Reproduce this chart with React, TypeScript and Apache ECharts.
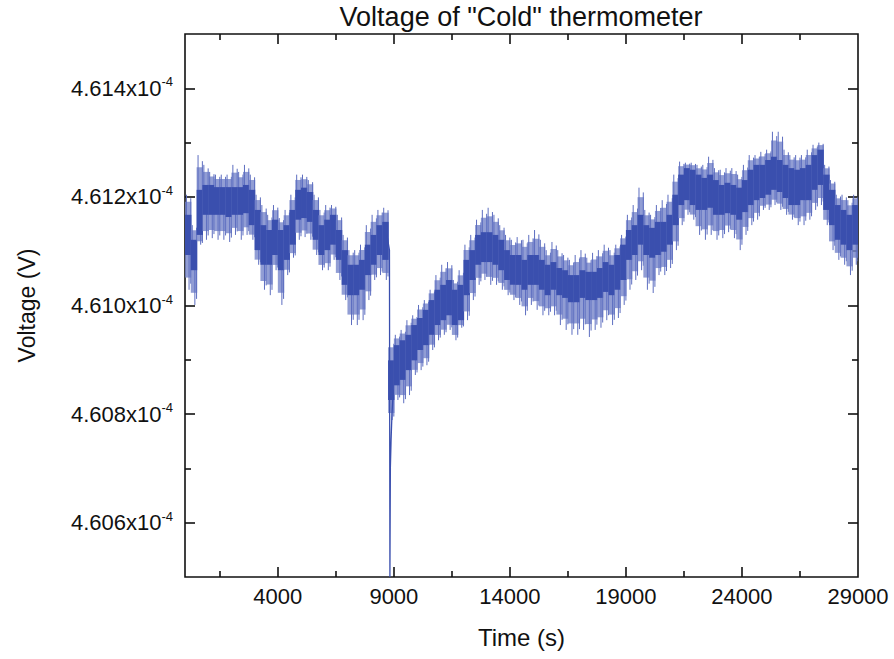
import React, { useEffect, useRef } from "react";
import * as echarts from "echarts";

// Time bins (s): each bin spans BIN seconds, starting at 0
const BIN = 250;
// Voltage in units of 1e-4 V, read per bin from the picture
const coreTop = [
  4.61167, 4.61121, 4.61213, 4.61222, 4.61222, 4.61218, 4.61218, 4.61218, 4.61218, 4.61218,
  4.61222, 4.61213, 4.61176, 4.61148, 4.61139, 4.61158, 4.61139, 4.61148, 4.61176, 4.61213,
  4.61217, 4.61209, 4.61176, 4.61148, 4.61158, 4.61167, 4.61139, 4.61102, 4.61075, 4.61075,
  4.61084, 4.61112, 4.6113, 4.61148, 4.61154, 4.60899, 4.60927, 4.60936, 4.60946, 4.60964,
  4.60977, 4.60992, 4.6101, 4.61029, 4.61038, 4.61047, 4.61029, 4.61038, 4.61084, 4.61102,
  4.6113, 4.61135, 4.61135, 4.6113, 4.61121, 4.61102, 4.61093, 4.61093, 4.61084, 4.61093,
  4.61093, 4.61084, 4.61075, 4.6108, 4.61069, 4.61065, 4.61056, 4.61056, 4.61065, 4.61062,
  4.61062, 4.61069, 4.6108, 4.61075, 4.61093, 4.61112, 4.61139, 4.61148, 4.61167, 4.61148,
  4.61143, 4.61154, 4.61154, 4.61167, 4.61204, 4.61241, 4.61253, 4.6125, 4.61241, 4.61235,
  4.61241, 4.61231, 4.61222, 4.61226, 4.61222, 4.61217, 4.61231, 4.6125, 4.61259, 4.61259,
  4.61268, 4.61274, 4.61268, 4.61259, 4.61253, 4.6125, 4.61253, 4.61259, 4.61277, 4.61287,
  4.61241, 4.61213, 4.61185, 4.61176, 4.61167, 4.61185,
];
const coreBottom = [
  4.61093, 4.61065, 4.6113, 4.61167, 4.61167, 4.61167, 4.61167, 4.61163, 4.61167, 4.61167,
  4.6117, 4.61148, 4.61102, 4.61075, 4.61075, 4.61093, 4.61065, 4.61084, 4.61112, 4.61158,
  4.61161, 4.61154, 4.61121, 4.61093, 4.61102, 4.61112, 4.61084, 4.61038, 4.61019, 4.61019,
  4.61029, 4.61056, 4.61075, 4.61093, 4.61084, 4.60826, 4.60853, 4.60863, 4.60881, 4.60899,
  4.60918, 4.60927, 4.60946, 4.60964, 4.60973, 4.60982, 4.60964, 4.60973, 4.61019, 4.61047,
  4.61075, 4.6108, 4.6108, 4.61075, 4.61065, 4.61047, 4.61038, 4.61038, 4.61029, 4.61038,
  4.61038, 4.61029, 4.61019, 4.61029, 4.61019, 4.61014, 4.61006, 4.61006, 4.61014, 4.6101,
  4.6101, 4.61014, 4.61025, 4.61019, 4.61029, 4.61047, 4.61084, 4.61093, 4.61112, 4.61093,
  4.61088, 4.61093, 4.61099, 4.61112, 4.61148, 4.61185, 4.61194, 4.61185, 4.61176, 4.61176,
  4.6118, 4.61167, 4.61167, 4.6117, 4.61167, 4.61158, 4.61172, 4.61185, 4.61194, 4.61198,
  4.61204, 4.61213, 4.61209, 4.61198, 4.61185, 4.61185, 4.61194, 4.61194, 4.61213, 4.61222,
  4.61176, 4.61148, 4.61121, 4.61112, 4.61102, 4.61112,
];
const spikeTop = [
  4.61204, 4.61148, 4.61277, 4.61259, 4.61246, 4.61241, 4.61241, 4.61241, 4.61259, 4.61246,
  4.61259, 4.61241, 4.61204, 4.61185, 4.61167, 4.61185, 4.61161, 4.61176, 4.61204, 4.61241,
  4.61241, 4.61231, 4.61204, 4.61176, 4.61185, 4.61185, 4.61167, 4.6113, 4.61102, 4.61102,
  4.61112, 4.61148, 4.61167, 4.61176, 4.6118, 4.60936, 4.60946, 4.60955, 4.60973, 4.60982,
  4.61001, 4.6101, 4.61029, 4.61056, 4.61075, 4.6108, 4.61047, 4.61065, 4.61112, 4.6113,
  4.61158, 4.61176, 4.6118, 4.61167, 4.61148, 4.6113, 4.61121, 4.61126, 4.61121, 4.6113,
  4.61139, 4.61121, 4.61102, 4.61117, 4.61102, 4.61093, 4.61084, 4.61093, 4.61102, 4.61088,
  4.61097, 4.61102, 4.61112, 4.61102, 4.61112, 4.6113, 4.61167, 4.61185, 4.61217, 4.61176,
  4.61167, 4.61185, 4.61194, 4.61204, 4.61241, 4.61265, 4.61263, 4.61263, 4.61259, 4.61259,
  4.61274, 4.61253, 4.6125, 4.61253, 4.61253, 4.61241, 4.61259, 4.61277, 4.61277, 4.61283,
  4.61287, 4.6132, 4.6132, 4.61287, 4.61277, 4.61277, 4.61277, 4.61287, 4.61296, 4.613,
  4.61259, 4.61231, 4.61204, 4.61204, 4.61194, 4.61204,
];
const spikeBottom = [
  4.61029, 4.61001, 4.61112, 4.61121, 4.61124, 4.61121, 4.61121, 4.61117, 4.6113, 4.61121,
  4.6113, 4.61121, 4.61075, 4.61029, 4.61019, 4.61065, 4.61001, 4.61056, 4.61088, 4.61121,
  4.61126, 4.61121, 4.61093, 4.61065, 4.61065, 4.61084, 4.61047, 4.6101, 4.60964, 4.60964,
  4.60973, 4.6101, 4.61047, 4.61056, 4.61047, 4.60789, 4.60826, 4.6082, 4.60835, 4.60872,
  4.60881, 4.6089, 4.60918, 4.60936, 4.60946, 4.60955, 4.60936, 4.60959, 4.60973, 4.6101,
  4.61038, 4.61047, 4.61038, 4.61038, 4.61029, 4.61019, 4.6101, 4.61001, 4.60982, 4.61001,
  4.60992, 4.60982, 4.60982, 4.60982, 4.60964, 4.60955, 4.60946, 4.60946, 4.60955, 4.60942,
  4.60955, 4.60959, 4.60973, 4.60964, 4.60977, 4.61001, 4.61029, 4.61047, 4.61065, 4.61029,
  4.61023, 4.61056, 4.61056, 4.61069, 4.61102, 4.61148, 4.61167, 4.61158, 4.6113, 4.61121,
  4.6113, 4.61121, 4.61124, 4.61135, 4.61124, 4.61102, 4.6113, 4.61148, 4.61158, 4.61176,
  4.61176, 4.61185, 4.61176, 4.61167, 4.61158, 4.61148, 4.61148, 4.61158, 4.61176, 4.61185,
  4.61148, 4.61102, 4.61084, 4.61075, 4.61056, 4.61075,
];
// The sudden drop near t = 8830 s
const dropTimes = [8700, 8810, 8830, 8850, 8880, 8920, 8980];
const dropValues = [4.6113, 4.61102, 4.605, 4.60702, 4.60752, 4.60802, 4.60845];

const xLabelValues = [4000, 9000, 14000, 19000, 24000, 29000];
const xMajorTicks = [4000, 9000, 14000, 19000, 24000];
const xMinorTicks = [1500, 6500, 11500, 16500, 21500, 26500];
const yMajorTicks = [4.606, 4.608, 4.61, 4.612, 4.614];
const yMinorTicks = [4.607, 4.609, 4.611, 4.613];

const FONT = "'Liberation Sans', Arial, Helvetica, sans-serif";
const CORE = "#3a4fae";
const HALO = "#7684c9";
const SPIKE = "#5d6ec0";
const INK = "#111111";

export default function App() {
  const ref = useRef<HTMLDivElement>(null);
  useEffect(() => {
    if (!ref.current) return;
    const chart = echarts.init(ref.current, null, { renderer: "svg" });
    const binData = coreTop.map((v, i) => [i * BIN, v, coreBottom[i], spikeTop[i], spikeBottom[i]]);
    const dropData = dropTimes.map((t, i) => [t, dropValues[i]]);

    const tickStyle = { color: INK, width: 1.6 };
    const xAx = (position: string, ticks: number[], len: number, labels: boolean, extra: any = {}) => ({
      type: "value",
      position,
      min: 0,
      max: 29000,
      axisLine: { show: false, onZero: false },
      axisTick: { show: true, inside: true, length: len, customValues: ticks, lineStyle: tickStyle },
      axisLabel: labels
        ? {
            show: true,
            customValues: xLabelValues,
            fontSize: 22,
            color: INK,
            fontFamily: FONT,
            margin: 8,
            formatter: (v: number) => String(v),
          }
        : { show: false },
      splitLine: { show: false },
      ...extra,
    });
    const yAx = (position: string, ticks: number[], len: number, labels: boolean, extra: any = {}) => ({
      type: "value",
      position,
      min: 4.605,
      max: 4.615,
      axisLine: { show: false, onZero: false },
      axisTick: { show: true, inside: true, length: len, customValues: ticks, lineStyle: tickStyle },
      axisLabel: labels
        ? {
            show: true,
            customValues: yMajorTicks,
            margin: 12,
            formatter: (v: number) => `{m|${v.toFixed(3)}x10}{s|-4}`,
            rich: {
              m: { fontSize: 22, color: INK, fontFamily: FONT, lineHeight: 26, verticalAlign: "middle" },
              s: { fontSize: 13, color: INK, fontFamily: FONT, verticalAlign: "top", lineHeight: 14 },
            },
          }
        : { show: false },
      splitLine: { show: false },
      ...extra,
    });

    chart.setOption({
      animation: false,
      backgroundColor: "#ffffff",
      grid: {
        left: 185,
        right: 36,
        top: 34,
        bottom: 82,
        show: true,
        borderColor: INK,
        borderWidth: 1.6,
        backgroundColor: "transparent",
      },
      graphic: [
        {
          type: "text",
          x: 521,
          y: 3,
          style: {
            text: 'Voltage of "Cold" thermometer',
            fontSize: 27,
            fontFamily: FONT,
            fill: INK,
            align: "center",
            verticalAlign: "top",
          },
        },
      ],
      xAxis: [
        xAx("bottom", xMajorTicks, 10, true, {
          name: "Time (s)",
          nameLocation: "middle",
          nameGap: 48,
          nameTextStyle: { fontSize: 24, color: INK, fontFamily: FONT },
        }),
        xAx("bottom", xMinorTicks, 6, false),
        xAx("top", xMajorTicks, 10, false),
        xAx("top", xMinorTicks, 6, false),
      ],
      yAxis: [
        yAx("left", yMajorTicks, 10, true, {
          name: "Voltage (V)",
          nameLocation: "middle",
          nameGap: 147,
          nameTextStyle: { fontSize: 23, color: INK, fontFamily: FONT },
        }),
        yAx("left", yMinorTicks, 6, false),
        yAx("right", yMajorTicks, 10, false),
        yAx("right", yMinorTicks, 6, false),
      ],
      series: [
        {
          type: "custom",
          xAxisIndex: 0,
          yAxisIndex: 0,
          clip: true,
          encode: { x: 0, y: [1, 2, 3, 4] },
          data: binData,
          renderItem: (params: any, api: any) => {
            const t = api.value(0);
            const a = api.coord([t, api.value(1)]);
            const b = api.coord([t + BIN, api.value(2)]);
            const st = api.coord([t + BIN * 0.25, api.value(3)]);
            const sb = api.coord([t + BIN * 0.7, api.value(4)]);
            const w = b[0] - a[0] + 0.6;
            const haloTop = a[1] - (a[1] - st[1]) * 0.65;
            const haloBottom = b[1] + (sb[1] - b[1]) * 0.65;
            return {
              type: "group",
              children: [
                {
                  type: "rect",
                  shape: { x: a[0], y: haloTop, width: w, height: haloBottom - haloTop },
                  style: { fill: HALO, opacity: 0.8 },
                },
                {
                  type: "line",
                  shape: { x1: st[0], y1: st[1], x2: st[0], y2: a[1] + 2 },
                  style: { stroke: SPIKE, lineWidth: 1 },
                },
                {
                  type: "line",
                  shape: { x1: sb[0], y1: b[1] - 2, x2: sb[0], y2: sb[1] },
                  style: { stroke: SPIKE, lineWidth: 1 },
                },
                {
                  type: "line",
                  shape: {
                    x1: a[0] + w * 0.9,
                    y1: haloTop - (haloTop - st[1]) * 0.5,
                    x2: a[0] + w * 0.9,
                    y2: haloBottom + (sb[1] - haloBottom) * 0.5,
                  },
                  style: { stroke: SPIKE, lineWidth: 1 },
                },
                {
                  type: "rect",
                  shape: { x: a[0], y: a[1], width: w, height: b[1] - a[1] },
                  style: { fill: CORE },
                },
              ],
            };
          },
        },
        {
          type: "line",
          xAxisIndex: 0,
          yAxisIndex: 0,
          data: dropData,
          showSymbol: false,
          symbol: "none",
          lineStyle: { color: CORE, width: 1.3 },
        },
      ],
    });
    return () => chart.dispose();
  }, []);
  return <div ref={ref} style={{ position: "absolute", left: 0, top: 0, width: 894, height: 659 }} />;
}
